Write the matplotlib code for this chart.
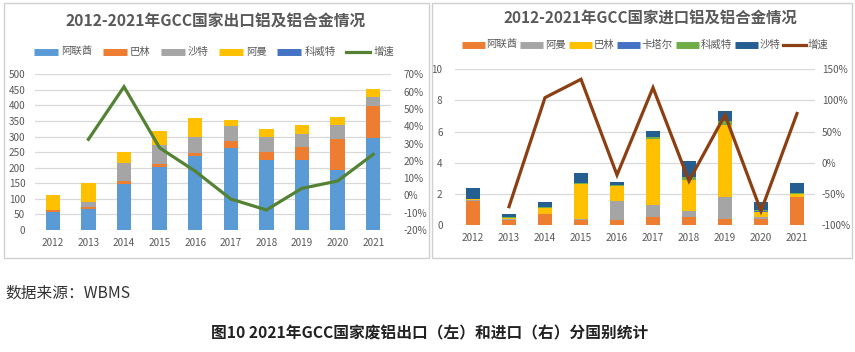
import matplotlib
matplotlib.use("Agg")
import matplotlib.pyplot as plt
from matplotlib.lines import Line2D
from matplotlib.patches import Rectangle
import numpy as np

plt.rcParams['font.family'] = ['Noto Sans CJK SC', 'DejaVu Sans']

years = ['2012', '2013', '2014', '2015', '2016', '2017', '2018', '2019', '2020', '2021']

# ---- Export (left) ----
exp_names = ['阿联酋', '巴林', '沙特', '阿曼', '科威特']
exp_uae = [59, 66, 147, 203, 239, 264, 226, 226, 192, 297]
exp_bahrain = [5, 7, 10, 8, 9, 21, 24, 40, 99, 102]
exp_saudi = [0, 16, 59, 62, 52, 49, 48, 42, 46, 27]
exp_oman = [48, 63, 33, 45, 59, 18, 25, 29, 25, 26]
exp_kuwait = [0, 0, 0, 0, 0, 0, 0, 0, 0, 0]
exp_growth = [None, 32.4, 62.8, 27.5, 14.0, -2.1, -8.4, 4.1, 8.3, 23.7]

# ---- Import (right) ----
imp_names = ['阿联酋', '阿曼', '巴林', '卡塔尔', '科威特', '沙特']
imp_uae = [1.55, 0.35, 0.70, 0.33, 0.33, 0.49, 0.49, 0.37, 0.36, 1.78]
imp_oman = [0.05, 0.03, 0.02, 0.03, 1.22, 0.79, 0.43, 1.40, 0.13, 0.00]
imp_bahrain = [0.05, 0.10, 0.38, 2.26, 0.94, 4.24, 1.97, 4.68, 0.37, 0.22]
imp_qatar = [0.00, 0.00, 0.00, 0.00, 0.00, 0.00, 0.00, 0.00, 0.05, 0.00]
imp_kuwait = [0.03, 0.02, 0.05, 0.10, 0.05, 0.11, 0.21, 0.20, 0.04, 0.06]
imp_saudi = [0.72, 0.20, 0.32, 0.64, 0.20, 0.41, 1.02, 0.65, 0.55, 0.66]
imp_growth = [None, -70.6, 104.5, 134.0, -19.7, 120.5, -29.3, 76.7, -77.5, 79.0]

W, H = 855, 352
fig = plt.figure(figsize=(W / 100, H / 100), dpi=100)

def px_axes(l, t, r, b, **kw):
    return fig.add_axes([l / W, 1 - b / H, (r - l) / W, (b - t) / H], **kw)

txt_col = '#595959'
grid_col = '#D9D9D9'

# panel borders
for (l, t, r, b) in [(4, 3, 429, 258), (432, 3, 852, 258)]:
    fig.patches.append(Rectangle((l / W, 1 - b / H), (r - l) / W, (b - t) / H,
                                 transform=fig.transFigure, fill=False,
                                 edgecolor='#D0D0D0', linewidth=1.0))

def style_axes(ax):
    for s in ax.spines.values():
        s.set_visible(False)
    ax.tick_params(length=0, colors=txt_col, labelsize=7.2)

# ---------------- Left chart ----------------
axL = px_axes(35, 74.3, 391, 230)
x = np.arange(len(years))
bw = 0.4
exp_series = [exp_uae, exp_bahrain, exp_saudi, exp_oman, exp_kuwait]
exp_colors = ['#5B9BD5', '#ED7D31', '#A5A5A5', '#FFC000', '#4472C4']
bottom = np.zeros(len(years))
for vals, c in zip(exp_series, exp_colors):
    v = np.array(vals, dtype=float)
    axL.bar(x, v, bw, bottom=bottom, color=c, zorder=3)
    bottom += v
axL.set_xlim(-0.5, 9.5)
axL.set_ylim(0, 500)
axL.set_yticks(np.arange(0, 501, 50))
axL.yaxis.grid(True, color=grid_col, linewidth=0.9, zorder=0)
axL.set_axisbelow(True)
axL.set_xticks(x)
axL.set_xticklabels(years)
style_axes(axL)
axL.tick_params(axis='x', pad=6)
axL.tick_params(axis='y', pad=7)
axL2 = axL.twinx()
gx = [i for i, g in enumerate(exp_growth) if g is not None]
gy = [g for g in exp_growth if g is not None]
axL2.plot(gx, gy, color='#548235', linewidth=2.3, zorder=5, solid_joinstyle='miter')
axL2.set_ylim(-20, 70)
axL2.set_yticks(np.arange(-20, 71, 10))
axL2.set_yticklabels([f'{v}%' for v in range(-20, 71, 10)])
style_axes(axL2)
axL2.tick_params(axis='y', pad=9)

fig.text(216 / W, 1 - 22 / H, '2012-2021年GCC国家出口铝及铝合金情况', ha='center', va='center',
         fontsize=11.3, fontweight='bold', color=txt_col)
hL = [Line2D([], [], color=c, linewidth=5, solid_capstyle='butt') for c in exp_colors]
hL.append(Line2D([], [], color='#548235', linewidth=2.3))
fig.legend(hL, exp_names + ['增速'], loc='center', bbox_to_anchor=(214 / W, 1 - 52 / H),
           ncol=6, frameon=False, fontsize=7.5, labelcolor=txt_col, handlelength=2.3,
           handletextpad=0.3, columnspacing=1.0)

# ---------------- Right chart ----------------
axR = px_axes(455, 69.3, 815, 225)
imp_series = [imp_uae, imp_oman, imp_bahrain, imp_qatar, imp_kuwait, imp_saudi]
imp_colors = ['#ED7D31', '#A5A5A5', '#FFC000', '#4472C4', '#70AD47', '#255E91']
bottom = np.zeros(len(years))
for vals, c in zip(imp_series, imp_colors):
    v = np.array(vals, dtype=float)
    axR.bar(x, v, bw, bottom=bottom, color=c, zorder=3)
    bottom += v
axR.set_xlim(-0.5, 9.5)
axR.set_ylim(0, 10)
axR.set_yticks(np.arange(0, 11, 2))
axR.yaxis.grid(True, color=grid_col, linewidth=0.9, zorder=0)
axR.set_axisbelow(True)
axR.set_xticks(x)
axR.set_xticklabels(years)
style_axes(axR)
axR.tick_params(axis='x', pad=6)
axR.tick_params(axis='y', pad=9)
axR2 = axR.twinx()
gx = [i for i, g in enumerate(imp_growth) if g is not None]
gy = [g for g in imp_growth if g is not None]
axR2.plot(gx, gy, color='#8B3F12', linewidth=2.3, zorder=5, solid_joinstyle='miter')
axR2.set_ylim(-100, 150)
axR2.set_yticks(np.arange(-100, 151, 50))
axR2.set_yticklabels([f'{v}%' for v in range(-100, 151, 50)])
style_axes(axR2)
axR2.tick_params(axis='y', pad=5)

fig.text(650 / W, 1 - 18 / H, '2012-2021年GCC国家进口铝及铝合金情况', ha='center', va='center',
         fontsize=11.1, fontweight='bold', color=txt_col)
hR = [Line2D([], [], color=c, linewidth=5, solid_capstyle='butt') for c in imp_colors]
hR.append(Line2D([], [], color='#8B3F12', linewidth=2.3))
fig.legend(hR, imp_names + ['增速'], loc='center', bbox_to_anchor=(645 / W, 1 - 45 / H),
           ncol=7, frameon=False, fontsize=7.5, labelcolor=txt_col, handlelength=2.2,
           handletextpad=0.15, columnspacing=0.3)

# ---------------- Footer ----------------
fig.text(5 / W, 1 - 293 / H, '数据来源：WBMS', ha='left', va='center', fontsize=11.3, color='#333333')
fig.text(430 / W, 1 - 333 / H, '图10 2021年GCC国家废铝出口（左）和进口（右）分国别统计', ha='center',
         va='center', fontsize=11.3, fontweight='bold', color='#222222')

fig.savefig('out.png', dpi=100)
